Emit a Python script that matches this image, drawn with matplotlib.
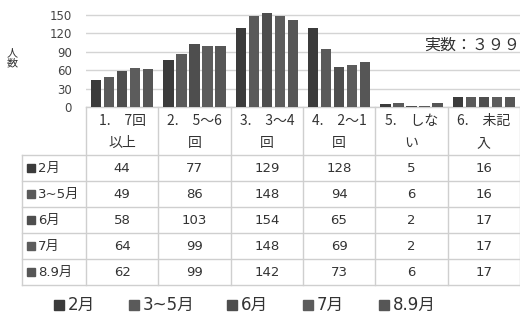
import numpy as np
import matplotlib.pyplot as plt
from matplotlib.patches import Rectangle

plt.rcParams['font.family'] = ['DejaVu Sans', 'Noto Sans CJK JP']

# data
categories = ["1.　7回\n以上", "2.　5～6\n回", "3.　3～4\n回", "4.　2～1\n回", "5.　しな\nい", "6.　未記\n入"]
months = ["2月", "3~5月", "6月", "7月", "8.9月"]
feb = [44, 77, 129, 128, 5, 16]
mar_may = [49, 86, 148, 94, 6, 16]
jun = [58, 103, 154, 65, 2, 17]
jul = [64, 99, 148, 69, 2, 17]
aug_sep = [62, 99, 142, 73, 6, 17]
series = [feb, mar_may, jun, jul, aug_sep]
colors = ["#3b3b3b", "#5a5a5a", "#4e4e4e", "#5c5c5c", "#565656"]
yticks = [0, 30, 60, 90, 120, 150]

W, H = 520, 324
fig = plt.figure(figsize=(W / 100, H / 100), dpi=100)

# table / frame layer in pixel coords
bg = fig.add_axes([0, 0, 1, 1])
bg.set_xlim(0, W)
bg.set_ylim(H, 0)
bg.axis('off')

x0, colw = 86, 72.3
top, head_h, row_h = 107, 48, 26
lab_x0 = 22
gc = "#cfcfcf"
txt = "#333333"
cjk = ['Noto Sans CJK JP', 'DejaVu Sans']

# main chart: 0 at y=107, 150 at y=15
ppu = (top - 15) / 150
ymax = 162
ax = fig.add_axes([x0 / W, (H - top) / H, (W - x0) / W, ymax * ppu / H])
x = np.arange(len(categories))
step, bw = 0.18, 0.146
for i, (vals, c) in enumerate(zip(series, colors)):
    ax.bar(x + (i - 2) * step, vals, width=bw, color=c, zorder=3)
ax.set_xlim(-0.5, 5.5)
ax.set_ylim(0, ymax)
ax.set_yticks(yticks)
ax.tick_params(axis='y', length=0, labelsize=8.5, labelcolor="#444444", pad=10)
ax.set_xticks([])
for s in ax.spines.values():
    s.set_visible(False)
ax.grid(axis='y', color="#d4d4d4", linewidth=1, zorder=0)
ax.set_facecolor('none')

bg.text(12, 58, "人\n数", ha='center', va='center', fontsize=8, color=txt,
        linespacing=1.0, family=cjk)
bg.text(424, 45, "実数：３９９", ha='left', va='center', fontsize=11.5, color=txt, family=cjk)

# table grid
n = len(categories)
nrows = len(months)
bottom = top + head_h + row_h * nrows
for j in range(n + 1):
    xx = x0 + colw * j
    bg.plot([xx, xx], [top, bottom], color=gc, lw=1)
bg.plot([x0, W], [top, top], color=gc, lw=1)
bg.plot([lab_x0, lab_x0], [top + head_h, bottom], color=gc, lw=1)
for k in range(nrows + 1):
    yy = top + head_h + row_h * k
    bg.plot([lab_x0, W], [yy, yy], color=gc, lw=1)

for j, cat in enumerate(categories):
    l1, l2 = cat.split("\n")
    cx = x0 + colw * (j + 0.5)
    bg.text(cx, top + 14, l1, ha='center', va='center', fontsize=10, color=txt, family=cjk)
    bg.text(cx, top + 36, l2, ha='center', va='center', fontsize=10, color=txt, family=cjk)

for k, (m, vals, c) in enumerate(zip(months, series, colors)):
    cy = top + head_h + row_h * (k + 0.5)
    bg.add_patch(Rectangle((lab_x0 + 5, cy - 4), 8, 8, color=c))
    bg.text(lab_x0 + 16, cy, m, ha='left', va='center', fontsize=9.5, color=txt)
    for j, v in enumerate(vals):
        bg.text(x0 + colw * (j + 0.5), cy, str(v), ha='center', va='center', fontsize=9.5, color=txt)

# legend
leg_x = [54, 129, 227, 303, 379]
for lx, m, c in zip(leg_x, months, colors):
    bg.add_patch(Rectangle((lx, 300), 10, 10, color=c))
    bg.text(lx + 14, 305, m, ha='left', va='center', fontsize=12, color=txt)

fig.savefig("out.png", dpi=100)
